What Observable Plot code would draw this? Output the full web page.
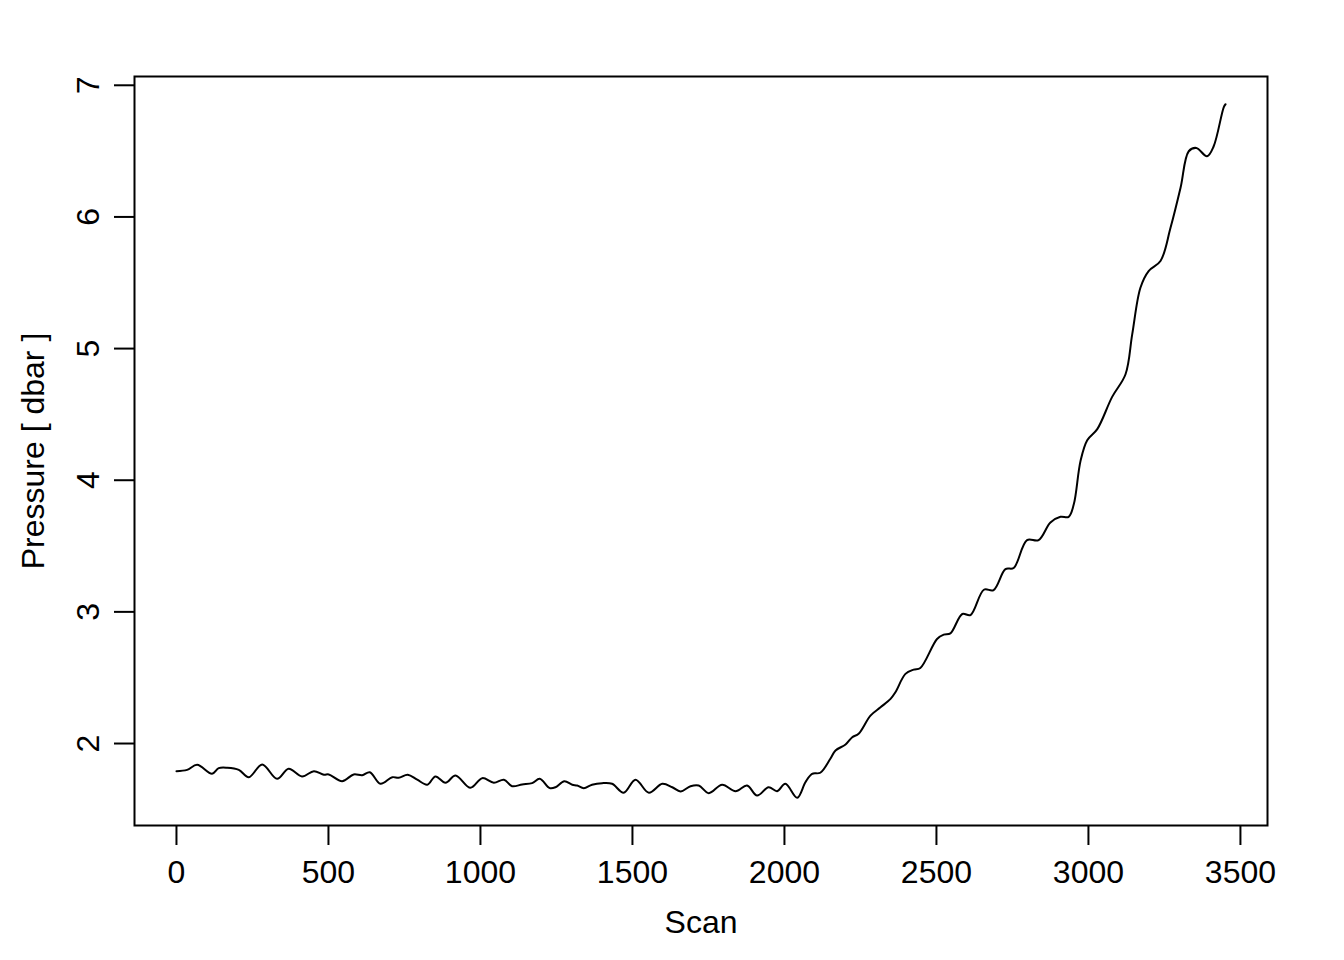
<!DOCTYPE html>
<html>
<head>
<meta charset="utf-8">
<script src="https://cdn.jsdelivr.net/npm/d3@7"></script>
<script src="https://cdn.jsdelivr.net/npm/@observablehq/plot@0.6"></script>
<style>
  html, body { margin: 0; padding: 0; background: white; }
  #chart { width: 1344px; height: 960px; }
</style>
</head>
<body>
<div id="chart"></div>
<script>
// Scan number and pressure (dbar)
const scans = [
  0,35,68,117,139,167,205,238,282,331,
  369,413,452,485,501,545,583,611,636,671,
  710,731,761,792,825,852,885,918,967,1006,
  1044,1077,1104,1137,1170,1195,1228,1247,1276,1302,
  1318,1340,1367,1400,1433,1471,1510,1554,1598,1631,
  1658,1691,1718,1751,1795,1839,1877,1910,1948,1976,
  2003,2042,2069,2091,2118,2151,2168,2201,2223,2244,
  2283,2316,2349,2365,2398,2425,2447,2502,2524,2546,
  2585,2612,2656,2688,2727,2754,2798,2836,2875,2908,
  2935,2952,2974,2996,3029,3078,3122,3144,3171,3198,
  3237,3270,3303,3330,3355,3390,3412,3445,3451
];
const pressures = [
  1.790,1.800,1.838,1.770,1.813,1.816,1.800,1.744,1.841,1.732,
  1.808,1.750,1.790,1.763,1.765,1.714,1.765,1.759,1.782,1.694,
  1.744,1.740,1.763,1.725,1.687,1.750,1.702,1.757,1.664,1.737,
  1.702,1.725,1.676,1.689,1.699,1.732,1.661,1.668,1.714,1.687,
  1.681,1.661,1.687,1.699,1.694,1.626,1.725,1.626,1.694,1.668,
  1.636,1.676,1.681,1.623,1.687,1.638,1.681,1.605,1.668,1.638,
  1.694,1.588,1.706,1.770,1.778,1.884,1.947,1.992,2.048,2.074,
  2.212,2.275,2.339,2.389,2.529,2.561,2.574,2.794,2.827,2.837,
  2.984,2.976,3.168,3.166,3.325,3.333,3.545,3.545,3.679,3.722,
  3.722,3.819,4.147,4.304,4.388,4.633,4.805,5.108,5.462,5.589,
  5.665,5.917,6.221,6.499,6.524,6.461,6.537,6.833,6.856
];
const xTicks = [0, 500, 1000, 1500, 2000, 2500, 3000, 3500];
const yTicks = [2, 3, 4, 5, 6, 7];
const xTitle = "Scan";
const yTitle = "Pressure [ dbar ]";

const data = scans.map((s, i) => ({scan: s, p: pressures[i]}));

// R-style 4% padding of the data range
const xr = d3.extent(scans), yr = d3.extent(pressures);
const xPad = (xr[1] - xr[0]) * 0.04, yPad = (yr[1] - yr[0]) * 0.04;

const FONT = "'Liberation Sans', Arial, Helvetica, sans-serif";

const chart = Plot.plot({
  width: 1344,
  height: 960,
  marginLeft: 134,
  marginRight: 77,
  marginTop: 76,
  marginBottom: 135,
  style: {fontFamily: FONT, fontSize: "32px", background: "white", color: "black"},
  x: {domain: [xr[0] - xPad, xr[1] + xPad], label: null},
  y: {domain: [yr[0] - yPad, yr[1] + yPad], label: null},
  marks: [
    Plot.frame({stroke: "black", strokeWidth: 2}),
    Plot.axisX({ticks: xTicks, tickSize: 20, strokeWidth: 2, tickFormat: () => "", label: null}),
    Plot.axisY({ticks: yTicks, tickSize: 20, strokeWidth: 2, tickFormat: () => "", label: null}),
    Plot.text(xTicks, {x: d => d, frameAnchor: "bottom", dy: 57, lineAnchor: "bottom",
      textAnchor: "middle", text: d => String(d), fontSize: 32, fill: "black"}),
    Plot.text(yTicks, {y: d => d, frameAnchor: "left", dx: -36, rotate: -90, lineAnchor: "bottom",
      textAnchor: "middle", text: d => String(d), fontSize: 32, fill: "black"}),
    Plot.text([xTitle], {frameAnchor: "bottom", dy: 107, lineAnchor: "bottom",
      textAnchor: "middle", text: d => d, fontSize: 32, fill: "black"}),
    Plot.text([yTitle], {frameAnchor: "left", dx: -91, rotate: -90, lineAnchor: "bottom",
      textAnchor: "middle", text: d => d, fontSize: 32, fill: "black"}),
    Plot.line(data, {x: "scan", y: "p", curve: "catmull-rom", stroke: "black", strokeWidth: 2})
  ]
});
document.getElementById("chart").appendChild(chart);
</script>
</body>
</html>
